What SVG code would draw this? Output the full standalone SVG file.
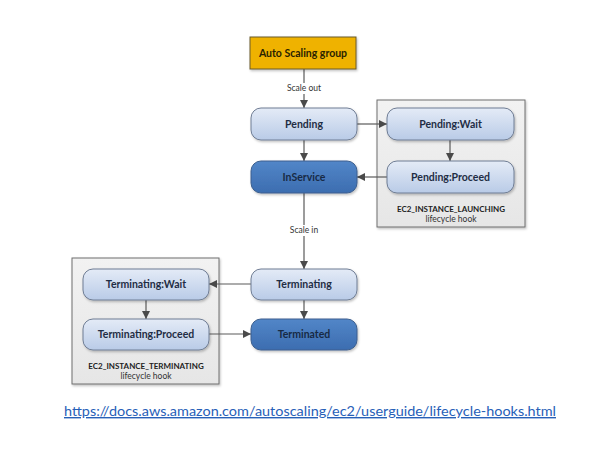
<svg xmlns="http://www.w3.org/2000/svg" width="602" height="450" viewBox="0 0 602 450">
<style>
text{font-family:Lato,"Open Sans","Liberation Sans",sans-serif}
.lbl{font-size:10.5px;font-weight:bold;fill:#1f2d44;text-anchor:middle}
.dlbl{font-size:10.5px;font-weight:bold;fill:#172a45;text-anchor:middle}
.small{font-size:8.5px;fill:#333;text-anchor:middle}
.hookt{font-size:8px;font-weight:bold;fill:#222;text-anchor:middle}
.light{fill:url(#gLight);stroke:#6f7d94;stroke-width:1}
.dark{fill:url(#gDark);stroke:#3c5f8e;stroke-width:1}
.hook{fill:url(#gHook);stroke:#6e6e6e;stroke-width:1}
.edge{stroke:#5a5a5a;stroke-width:1.2;fill:none;marker-end:url(#arr)}
</style>
<defs>
<linearGradient id="gLight" x1="0" y1="0" x2="0" y2="1"><stop offset="0" stop-color="#e4ebf7"/><stop offset="1" stop-color="#b9cbe7"/></linearGradient>
<linearGradient id="gDark" x1="0" y1="0" x2="0" y2="1"><stop offset="0" stop-color="#5286c8"/><stop offset="1" stop-color="#3c6db0"/></linearGradient>
<linearGradient id="gHook" x1="0" y1="0" x2="0" y2="1"><stop offset="0" stop-color="#f2f2f2"/><stop offset="1" stop-color="#e6e6e6"/></linearGradient>
<filter id="sh" x="-10%" y="-10%" width="125%" height="135%"><feDropShadow dx="1" dy="1.5" stdDeviation="1" flood-color="#000" flood-opacity="0.25"/></filter>
<marker id="arr" viewBox="0 0 10 10" refX="10" refY="5" markerWidth="8" markerHeight="8" markerUnits="userSpaceOnUse" orient="auto"><path d="M0,0 L10,5 L0,10 z" fill="#4a4a4a"/></marker>
</defs>
<rect width="602" height="450" fill="#fff"/>
<g id="hook-launching">
<rect class="hook" x="377" y="100" width="148" height="127" filter="url(#sh)"/>
<text class="hookt" x="451" y="212">EC2_INSTANCE_LAUNCHING</text>
<text class="small" x="451" y="222">lifecycle hook</text>
</g>
<g id="hook-terminating">
<rect class="hook" x="72" y="258" width="147" height="126" filter="url(#sh)"/>
<text class="hookt" x="146" y="369">EC2_INSTANCE_TERMINATING</text>
<text class="small" x="146" y="379">lifecycle hook</text>
</g>
<g id="connectors">
<path class="edge" d="M304,69 V108"/>
<rect x="282" y="83" width="44" height="11" fill="#fff"/>
<text class="small" x="304" y="91">Scale out</text>
<path class="edge" d="M357,124 H387"/>
<path class="edge" d="M450,140 V161"/>
<path class="edge" d="M387,177 H357"/>
<path class="edge" d="M304,140 V161"/>
<path class="edge" d="M304,193 V269"/>
<rect x="286" y="225" width="36" height="11" fill="#fff"/>
<text class="small" x="304" y="233">Scale in</text>
<path class="edge" d="M251,284 H209"/>
<path class="edge" d="M146,300 V319"/>
<path class="edge" d="M209,334 H251"/>
<path class="edge" d="M304,300 V319"/>
</g>
<g id="asg">
<rect x="250" y="37" width="106" height="32" fill="#efb200" stroke="#6a5a2a" stroke-width="1" filter="url(#sh)"/>
<text class="lbl" x="303" y="56.5" style="fill:#2a2200">Auto Scaling group</text>
</g>
<g id="pending">
<rect class="light" x="251" y="108" width="106" height="32" rx="10" filter="url(#sh)"/>
<text class="lbl" x="304" y="127.5">Pending</text>
</g>
<g id="inservice">
<rect class="dark" x="251" y="161" width="106" height="32" rx="10" filter="url(#sh)"/>
<text class="dlbl" x="304" y="180.5">InService</text>
</g>
<g id="pending-wait">
<rect class="light" x="387" y="108" width="127" height="32" rx="10" filter="url(#sh)"/>
<text class="lbl" x="450.5" y="127.5">Pending:Wait</text>
</g>
<g id="pending-proceed">
<rect class="light" x="387" y="161" width="127" height="32" rx="10" filter="url(#sh)"/>
<text class="lbl" x="450.5" y="180.5">Pending:Proceed</text>
</g>
<g id="terminating">
<rect class="light" x="251" y="269" width="106" height="31" rx="10" filter="url(#sh)"/>
<text class="lbl" x="304" y="288">Terminating</text>
</g>
<g id="terminated">
<rect class="dark" x="251" y="319" width="106" height="31" rx="10" filter="url(#sh)"/>
<text class="dlbl" x="304" y="338">Terminated</text>
</g>
<g id="terminating-wait">
<rect class="light" x="83" y="269" width="126" height="31" rx="10" filter="url(#sh)"/>
<text class="lbl" x="146" y="288">Terminating:Wait</text>
</g>
<g id="terminating-proceed">
<rect class="light" x="83" y="319" width="126" height="31" rx="10" filter="url(#sh)"/>
<text class="lbl" x="146" y="338">Terminating:Proceed</text>
</g>
<g id="url">
<text x="64" y="416" font-size="14" fill="#2760b8" text-decoration="underline" textLength="492" lengthAdjust="spacingAndGlyphs">https://docs.aws.amazon.com/autoscaling/ec2/userguide/lifecycle-hooks.html</text>
</g>
</svg>
